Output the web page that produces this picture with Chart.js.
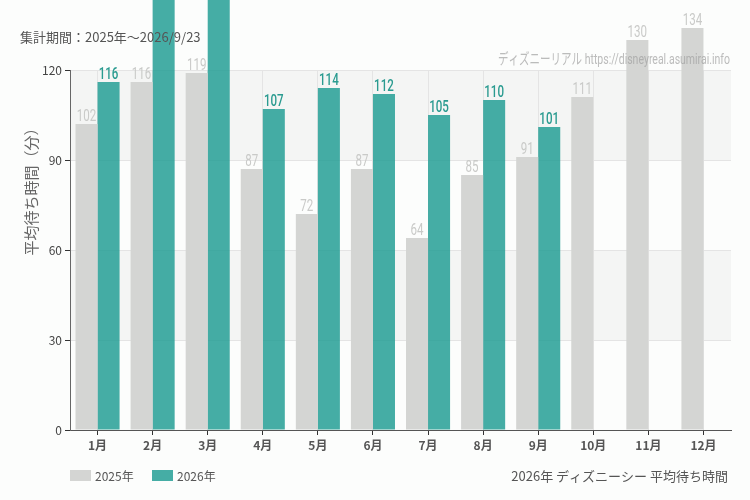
<!DOCTYPE html>
<html>
<head>
<meta charset="utf-8">
<script src="https://cdn.jsdelivr.net/npm/chart.js@4"></script>
<style>
  html, body { margin:0; padding:0; background:#fcfdfc; }
  #wrap { width:750px; height:500px; position:relative; }
</style>
</head>
<body>
<div id="wrap"><canvas id="waitChart"></canvas></div>
<script>
/* 2026年 ディズニーシー 平均待ち時間 */
const months = ['1月','2月','3月','4月','5月','6月','7月','8月','9月','10月','11月','12月'];
const wait2025 = [102,116,119,87,72,87,64,85,91,111,130,134];
// Feb/Mar 2026 run off the top of the picture; values estimated
const wait2026 = [116,152,156,107,114,112,105,110,101,null,null,null];
const yTicks = [0,30,60,90,120];

const JP = "'Noto Sans CJK JP', 'Noto Sans', sans-serif";
const NARROW = "'Roboto', 'Noto Sans CJK JP', sans-serif";
const GRAY = '#d4d5d3';
const TEAL = 'rgba(36,159,149,0.85)';

// draw text squeezed horizontally (narrow look of the original labels)
function narrowText(ctx, txt, x, y, sx) {
  ctx.save();
  ctx.translate(x, y);
  ctx.scale(sx, 1);
  ctx.fillText(txt, 0, 0);
  ctx.restore();
}

// alternating background bands + texts
const decor = {
  id: 'decor',
  beforeDraw(chart) {
    const { ctx, chartArea: a, scales: { y } } = chart;
    ctx.save();
    ctx.fillStyle = '#fcfdfc';
    ctx.fillRect(0, 0, chart.width, chart.height);
    ctx.fillStyle = '#f4f5f4';
    [[90,120],[30,60]].forEach(([lo,hi]) => {
      const t = y.getPixelForValue(hi), b = y.getPixelForValue(lo);
      ctx.fillRect(a.left, t, a.right - a.left, b - t);
    });
    ctx.restore();
  },
  afterDatasetsDraw(chart) {
    const { ctx } = chart;
    ctx.save();
    // value labels
    chart.data.datasets.forEach((ds, di) => {
      const meta = chart.getDatasetMeta(di);
      meta.data.forEach((bar, i) => {
        const v = ds.data[i];
        if (v == null) return;
        ctx.font = (di === 1 ? '500 ' : '400 ') + '17px ' + NARROW;
        ctx.fillStyle = di === 1 ? '#2a9b90' : '#c9cac8';
        ctx.textAlign = 'center';
        ctx.textBaseline = 'bottom';
        narrowText(ctx, String(v), bar.x, bar.y + 1, 0.68);
      });
    });
    // title, watermark, caption
    ctx.font = '13px ' + JP;
    ctx.fillStyle = '#555';
    ctx.textAlign = 'left';
    ctx.textBaseline = 'middle';
    ctx.fillText('集計期間：2025年～2026/9/23', 20, 37);

    ctx.font = '15px ' + NARROW;
    ctx.fillStyle = 'rgba(160,160,160,0.7)';
    ctx.textAlign = 'right';
    narrowText(ctx, 'ディズニーリアル https://disneyreal.asumirai.info', 730, 60, 0.7);

    ctx.font = '13px ' + JP;
    ctx.fillStyle = '#555';
    ctx.fillText('2026年 ディズニーシー 平均待ち時間', 728, 476);

    // y axis title
    ctx.save();
    ctx.translate(31, 188);
    ctx.rotate(-Math.PI / 2);
    ctx.textAlign = 'center';
    ctx.font = '15px ' + JP;
    ctx.fillStyle = '#666';
    ctx.fillText('平均待ち時間（分）', 0, 0);
    ctx.restore();

    // legend
    ctx.textAlign = 'left';
    ctx.font = '12px ' + JP;
    [['2025年', GRAY, 70], ['2026年', TEAL, 152]].forEach(([lbl, col, x]) => {
      ctx.fillStyle = col;
      ctx.fillRect(x, 470, 21, 11);
      ctx.fillStyle = '#555';
      ctx.fillText(lbl, x + 25, 476);
    });
    ctx.restore();
  }
};

new Chart(document.getElementById('waitChart'), {
  type: 'bar',
  data: {
    labels: months,
    datasets: [
      { label: '2025年', data: wait2025, backgroundColor: GRAY, clip: false },
      { label: '2026年', data: wait2026, backgroundColor: TEAL, clip: false }
    ]
  },
  options: {
    responsive: true,
    maintainAspectRatio: false,
    animation: false,
    devicePixelRatio: 1,
    categoryPercentage: 0.8,
    barPercentage: 1,
    layout: { padding: { top: 70, right: 19, left: 0, bottom: 0 } },
    plugins: { legend: { display: false }, tooltip: { enabled: false } },
    scales: {
      x: {
        afterFit: s => { s.height = 70; },
        grid: { offset: false, color: '#e4e4e4', tickColor: '#333', tickLength: 5 },
        border: { color: '#555' },
        ticks: { color: '#555', font: { family: JP, size: 12, weight: '600' }, padding: 3 }
      },
      y: {
        min: 0, max: 120,
        afterFit: s => { s.width = 70; },
        afterBuildTicks: s => { s.ticks = yTicks.map(v => ({ value: v })); },
        grid: {
          color: c => c.tick && c.tick.value === 0 ? 'rgba(0,0,0,0)' : '#e4e4e4',
          tickColor: '#333', tickLength: 5
        },
        border: { color: '#666' },
        ticks: { color: '#444', font: { family: JP, size: 12 }, padding: 3 }
      }
    }
  },
  plugins: [decor]
});
</script>
</body>
</html>
